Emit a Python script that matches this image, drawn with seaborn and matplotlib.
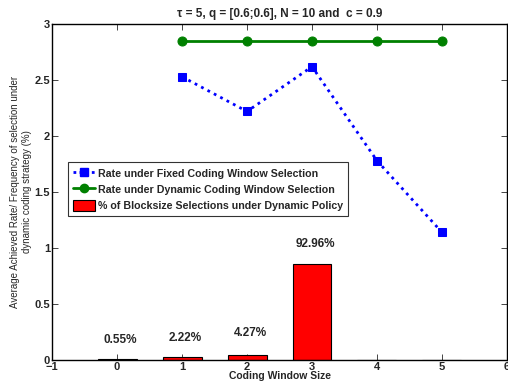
import matplotlib
matplotlib.use("Agg")
import matplotlib.pyplot as plt
import seaborn as sns
import pandas as pd
from matplotlib.patches import Patch
from matplotlib.lines import Line2D

# Data
window_sizes = [1, 2, 3, 4, 5]
fixed_rate = [2.53, 2.22, 2.62, 1.78, 1.14]
dynamic_rate = [2.85, 2.85, 2.85, 2.85, 2.85]
bar_positions = [0, 1, 2, 3, 4, 5]
bar_heights = [0.0055, 0.0222, 0.0427, 0.86, 0.0, 0.0]
bar_labels = ["0.55%", "2.22%", "4.27%", "92.96%"]
label_heights = [0.18, 0.20, 0.24, 1.04]
xticks = [-1, 0, 1, 2, 3, 4, 5, 6]
yticks = [0, 0.5, 1, 1.5, 2, 2.5, 3]

sns.set_style("white")
plt.rcParams["font.family"] = ["Liberation Sans", "DejaVu Sans"]

fig = plt.figure(figsize=(5.08, 3.89), dpi=100)
ax = fig.add_axes([0.1024, 0.0746, 0.8956, 0.8634])

df_bar = pd.DataFrame({"x": bar_positions, "y": bar_heights})
sns.barplot(data=df_bar, x="x", y="y", native_scale=True, width=0.6,
            color="#ff0000", saturation=1, edgecolor="black", linewidth=0.8, ax=ax)

df_fixed = pd.DataFrame({"x": window_sizes, "y": fixed_rate})
df_dyn = pd.DataFrame({"x": window_sizes, "y": dynamic_rate})
sns.lineplot(data=df_dyn, x="x", y="y", color="#008000", linewidth=2,
             marker="o", markersize=6.5, markeredgecolor="#008000", ax=ax)
sns.lineplot(data=df_fixed, x="x", y="y", color="#0000ff", linewidth=2,
             linestyle=(0, (1, 1.6)), marker="s", markersize=5.5, markeredgecolor="#0000ff", ax=ax)

for xp, lab, h in zip(bar_positions, bar_labels, label_heights):
    ax.text(xp + 0.05, h, lab, ha="center", va="center", fontsize=8.5, fontweight="bold")

ax.set_xlim(-1, 6)
ax.set_ylim(0, 3)
ax.set_xticks(xticks)
ax.set_yticks(yticks)
ax.set_xticklabels([str(t).replace("-", "\u2212") for t in xticks], fontsize=8, fontweight="bold")
ax.set_yticklabels(["0", "0.5", "1", "1.5", "2", "2.5", "3"], fontsize=8, fontweight="bold")
ax.tick_params(direction="in", length=4, width=0.6, top=True, right=True, pad=1.5,
               bottom=True, left=True)
ax.set_xlabel("Coding Window Size", fontsize=7.5, fontweight="bold", labelpad=-1)
ax.set_ylabel("Average Achieved Rate/ Frequency of selection under\ndynamic coding strategy (%)",
              fontsize=7, labelpad=2)
ax.set_title("\u03c4 = 5, q = [0.6;0.6], N = 10 and  c = 0.9", fontsize=8.5, fontweight="bold", pad=5)

for s in ax.spines.values():
    s.set_linewidth(1.0)
    s.set_color("black")

handles = [
    Line2D([0], [0], color="#0000ff", linestyle=(0, (1, 1.2)), linewidth=2, marker="s", markersize=5.5),
    Line2D([0], [0], color="#008000", linewidth=2, marker="o", markersize=6),
    Patch(facecolor="#ff0000", edgecolor="black", linewidth=0.8),
]
labels = ["Rate under Fixed Coding Window Selection",
          "Rate under Dynamic Coding Window Selection",
          "% of Blocksize Selections under Dynamic Policy"]
leg = ax.legend(handles, labels, loc="upper left", bbox_to_anchor=(0.035, 0.588),
                prop={"weight": "bold", "size": 7.7}, frameon=True, fancybox=False,
                edgecolor="black", handlelength=2.0, handleheight=1.2, handletextpad=0.3,
                labelspacing=0.45, borderpad=0.5, borderaxespad=0)
leg.get_frame().set_linewidth(0.8)

fig.savefig("out.png", dpi=100)
